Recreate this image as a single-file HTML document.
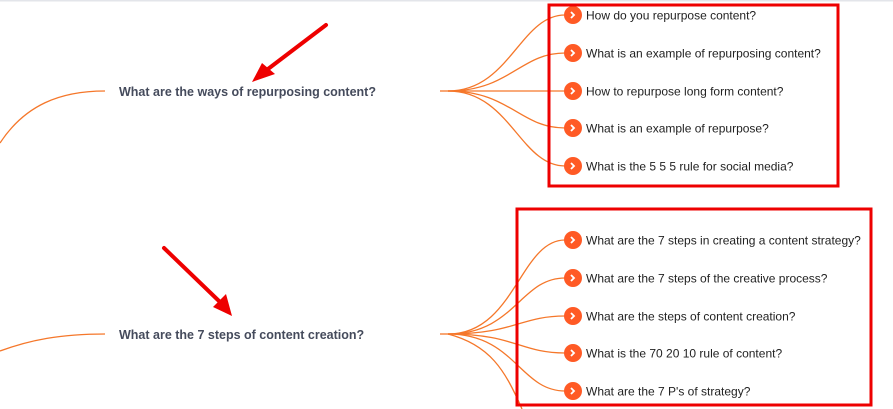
<!DOCTYPE html>
<html><head><meta charset="utf-8"><style>
html,body{margin:0;padding:0;background:#fff;}
body{width:893px;height:409px;overflow:hidden;position:relative;font-family:"Liberation Sans",sans-serif;}
</style></head><body>
<svg width="893" height="409" viewBox="0 0 893 409" xmlns="http://www.w3.org/2000/svg" style="position:absolute;left:0;top:0">
<rect x="0" y="0" width="893" height="1.5" fill="#e3e5ea"/>
<g fill="none" stroke="#f5772a" stroke-width="1.3">
<path d="M105,91 C60,91 25,105 0,143"/>
<path d="M105,334 C60,334 30,340 0,351"/>
<path d="M440,91 L448,91"/>
<path d="M448,91 C510,91 520,15 565,15"/>
<path d="M448,91 C510,91 520,53 565,53"/>
<path d="M448,91 L565,91"/>
<path d="M448,91 C510,91 520,128 565,128"/>
<path d="M448,91 C510,91 520,166 565,166"/>
<path d="M440,334 L448,334"/>
<path d="M448,334 C515,334 520,240 565,240"/>
<path d="M448,334 C515,334 520,278 565,278"/>
<path d="M448,334 C515,334 520,316 565,316"/>
<path d="M448,334 C515,334 520,353 565,353"/>
<path d="M448,334 C515,334 520,391 565,391"/>
<path d="M448,334 C490,345 505,370 522,409"/>
</g>
<g font-family="Liberation Sans, sans-serif" font-size="12" fill="#222">
<g fill="#ff5a25">
<circle cx="573" cy="15" r="9"/><circle cx="573" cy="53" r="9"/><circle cx="573" cy="91" r="9"/><circle cx="573" cy="128" r="9"/><circle cx="573" cy="166" r="9"/>
<circle cx="573" cy="240" r="9"/><circle cx="573" cy="278" r="9"/><circle cx="573" cy="316" r="9"/><circle cx="573" cy="353" r="9"/><circle cx="573" cy="391" r="9"/>
</g>
<g fill="none" stroke="#fff" stroke-width="1.8">
<path d="M571,12 l3,3 l-3,3"/><path d="M571,50 l3,3 l-3,3"/><path d="M571,88 l3,3 l-3,3"/><path d="M571,125 l3,3 l-3,3"/><path d="M571,163 l3,3 l-3,3"/>
<path d="M571,237 l3,3 l-3,3"/><path d="M571,275 l3,3 l-3,3"/><path d="M571,313 l3,3 l-3,3"/><path d="M571,350 l3,3 l-3,3"/><path d="M571,388 l3,3 l-3,3"/>
</g>
<text x="586" y="19.5">How do you repurpose content?</text>
<text x="586" y="57.5">What is an example of repurposing content?</text>
<text x="586" y="95.5">How to repurpose long form content?</text>
<text x="586" y="132.5">What is an example of repurpose?</text>
<text x="586" y="170.5">What is the 5 5 5 rule for social media?</text>
<text x="586" y="244.5">What are the 7 steps in creating a content strategy?</text>
<text x="586" y="282.5">What are the 7 steps of the creative process?</text>
<text x="586" y="320.5">What are the steps of content creation?</text>
<text x="586" y="357.5">What is the 70 20 10 rule of content?</text>
<text x="586" y="395.5">What are the 7 P's of strategy?</text>
</g>
<g font-family="Liberation Sans, sans-serif" font-size="12.5" font-weight="bold" fill="#454b5c">
<text x="119" y="96">What are the ways of repurposing content?</text>
<text x="119" y="339">What are the 7 steps of content creation?</text>
</g>
<g fill="none" stroke="#ee0000" stroke-width="3">
<rect x="549" y="5" width="289" height="181"/>
<rect x="517" y="209" width="354" height="196"/>
</g>
<g stroke="#ee0000" stroke-width="4" stroke-linecap="round">
<line x1="326" y1="25" x2="268" y2="69"/>
<line x1="164" y1="248" x2="220" y2="302"/>
</g>
<g fill="#ee0000">
<polygon points="252,82 262,63 275,74"/>
<polygon points="232,316 213,307 226,294"/>
</g>
</svg>
</body></html>
